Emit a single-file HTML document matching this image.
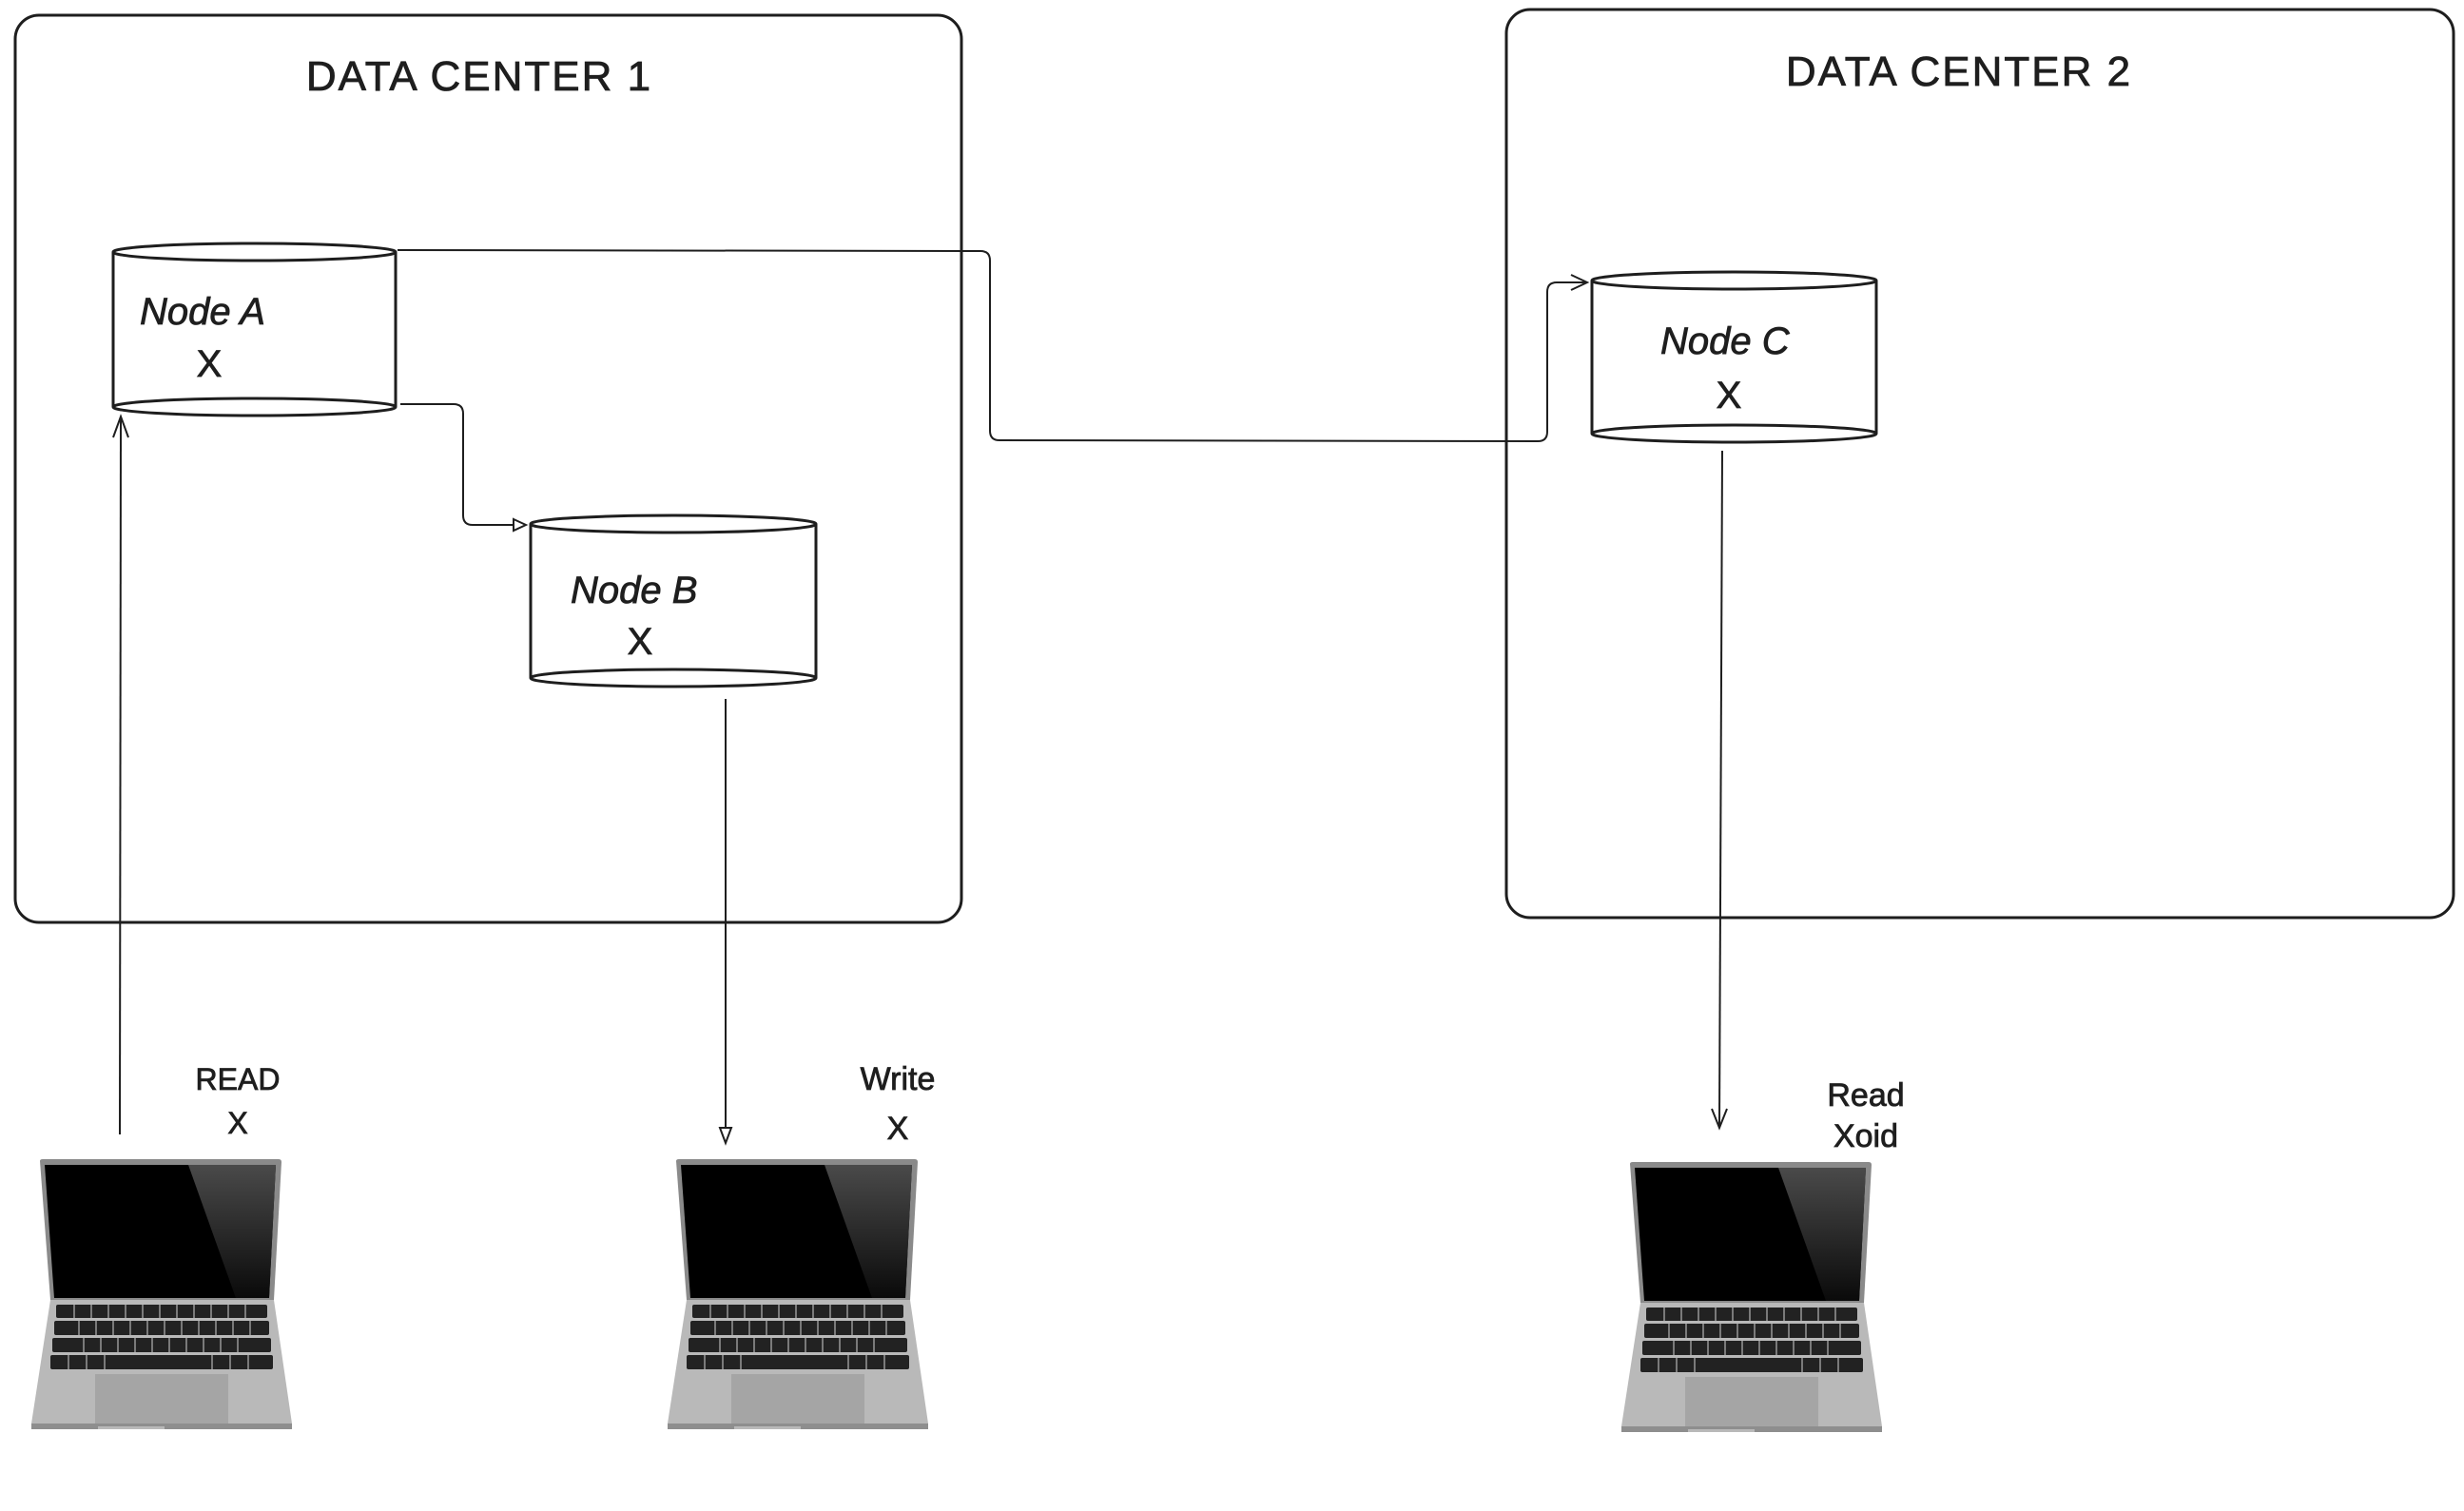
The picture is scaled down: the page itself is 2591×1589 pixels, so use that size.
<!DOCTYPE html>
<html><head><meta charset="utf-8"><style>
html,body{margin:0;padding:0;background:#fff;}
svg{display:block;}
text{font-family:"Liberation Sans","DejaVu Sans",sans-serif;fill:#1e1e1e;stroke:#1e1e1e;stroke-width:0.8;}
</style></head><body>
<svg width="2591" height="1589" viewBox="0 0 2591 1589" xmlns="http://www.w3.org/2000/svg">
<defs>
<linearGradient id="gl" x1="0" y1="0" x2="0" y2="1">
  <stop offset="0" stop-color="#4a4a4a"/><stop offset="1" stop-color="#0a0a0a"/>
</linearGradient>
<g id="laptop">
  <path d="M9,2 Q9,0 12,0 L260,0 Q263,0 263,3 L255,148 L20,148 Z" fill="#8a8a8a"/>
  <path d="M14,6 L257,6 L250,146 L24,146 Z" fill="#000"/>
  <path d="M165,6 L257,6 L250,146 L215,146 Z" fill="url(#gl)"/>
  <path d="M20,148 L255,148 L274,278 L274,284 L0,284 L0,278 Z" fill="#b9b9b9"/>
  <path d="M0,278 L274,278 L274,284 L140,284 L140,281 L70,281 L70,284 L0,284 Z" fill="#8e8e8e"/>
  <g fill="#222">
    <rect x="26" y="153" width="222" height="14" rx="2"/>
    <rect x="24" y="170" width="226" height="15" rx="2"/>
    <rect x="22" y="188" width="230" height="15" rx="2"/>
    <rect x="20" y="206" width="234" height="15" rx="2"/>
  </g>
  <g stroke="#7a7a7a" stroke-width="2">
    <path d="M45,153v14M63,153v14M81,153v14M99,153v14M117,153v14M135,153v14M153,153v14M171,153v14M189,153v14M207,153v14M225,153v14"/>
    <path d="M50,170v15M68,170v15M86,170v15M104,170v15M122,170v15M140,170v15M158,170v15M176,170v15M194,170v15M212,170v15M230,170v15"/>
    <path d="M55,188v15M73,188v15M91,188v15M109,188v15M127,188v15M145,188v15M163,188v15M181,188v15M199,188v15M217,188v15"/>
    <path d="M39,206v15M58,206v15M77,206v15M190,206v15M209,206v15M228,206v15"/>
  </g>
  <rect x="67" y="226" width="140" height="52" fill="#a5a5a5"/>
</g>
</defs>

<rect x="16" y="16" width="995" height="954" rx="25" fill="none" stroke="#1e1e1e" stroke-width="3"/>
<rect x="1584" y="10" width="996" height="955" rx="25" fill="none" stroke="#1e1e1e" stroke-width="3"/>
<text x="504" y="95" font-size="44" text-anchor="middle" letter-spacing="2">DATA CENTER 1</text>
<text x="2060" y="90" font-size="44" text-anchor="middle" letter-spacing="2">DATA CENTER 2</text>

<g fill="#fff" stroke="#1e1e1e" stroke-width="3">
  <path d="M119,265 L119,428 A148.5,9 0 0 0 416,428 L416,265"/>
  <ellipse cx="267.5" cy="265" rx="148.5" ry="9"/>
  <path d="M119,428 A148.5,9 0 0 1 416,428"/>
  <path d="M558,551 L558,713 A150,9 0 0 0 858,713 L858,551"/>
  <ellipse cx="708" cy="551" rx="150" ry="9"/>
  <path d="M558,713 A150,9 0 0 1 858,713"/>
  <path d="M1674,295 L1674,456 A149.5,9 0 0 0 1973,456 L1973,295"/>
  <ellipse cx="1823.5" cy="295" rx="149.5" ry="9"/>
  <path d="M1674,456 A149.5,9 0 0 1 1973,456"/>
</g>
<text x="147" y="341" font-size="40" font-style="oblique">Node A</text>
<text x="220" y="396" font-size="40" text-anchor="middle">X</text>
<text x="600" y="634" font-size="40" font-style="oblique">Node B</text>
<text x="673" y="688" font-size="40" text-anchor="middle">X</text>
<text x="1746" y="372" font-size="40" font-style="oblique">Node C</text>
<text x="1818" y="429" font-size="40" text-anchor="middle">X</text>

<g fill="none" stroke="#1e1e1e" stroke-width="2">
  <path d="M418,263 L1031,264 Q1041,264 1041,274 L1041,453 Q1041,463 1051,463 L1617,464 Q1627,464 1627,454 L1627,307 Q1627,297 1637,297 L1668,297"/>
  <path d="M1652,289 L1669,297 L1652,305"/>
  <path d="M421,425 L477,425 Q487,425 487,435 L487,542 Q487,552 497,552 L540,552"/>
  <path d="M540,546 L553,552 L540,558 Z"/>
  <path d="M763,735 L763,1186"/>
  <path d="M757,1186 L763,1202 L769,1186 Z"/>
  <path d="M126,1193 L127,440"/>
  <path d="M119,460 L127,438 L135,460"/>
  <path d="M1811,474 L1808,1186"/>
  <path d="M1800,1166 L1808,1186 L1816,1166"/>
</g>

<text x="250" y="1146" font-size="32" text-anchor="middle">READ</text>
<text x="250" y="1192" font-size="32" text-anchor="middle">X</text>
<text x="944" y="1146" font-size="34" text-anchor="middle">Write</text>
<text x="944" y="1198" font-size="34" text-anchor="middle">X</text>
<text x="1962" y="1163" font-size="34" text-anchor="middle">Read</text>
<text x="1962" y="1206" font-size="34" text-anchor="middle">Xoid</text>

<use href="#laptop" transform="translate(33,1219)"/>
<use href="#laptop" transform="translate(702,1219)"/>
<use href="#laptop" transform="translate(1705,1222)"/>
</svg>
</body></html>
